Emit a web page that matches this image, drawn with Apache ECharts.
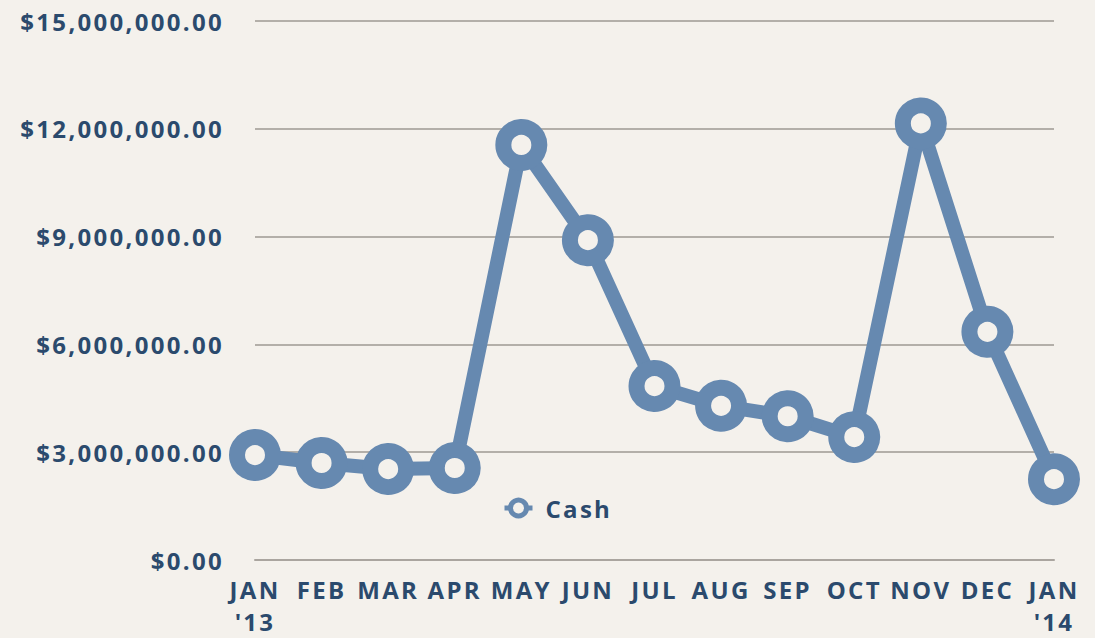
<!DOCTYPE html>
<html lang="en">
<head>
    <meta charset="UTF-8">
    <title>Cash</title>
    <script src="https://cdn.jsdelivr.net/npm/echarts@6/dist/echarts.min.js"></script>
    <style>
        html, body {
            margin: 0;
            padding: 0;
            background: #f4f1ec;
        }
        #main {
            width: 1095px;
            height: 638px;
        }
        /* 字距加宽，贴近原图 */
        #main text {
            letter-spacing: 2.3px;
        }
    </style>
</head>
<body>
<div id="main"></div>
<script type="application/javascript">
    // 数据
    var months = ["JAN\n'13", 'FEB', 'MAR', 'APR', 'MAY', 'JUN', 'JUL', 'AUG', 'SEP', 'OCT', 'NOV', 'DEC', "JAN\n'14"];
    var cash = [2920000, 2700000, 2530000, 2560000, 11550000, 8900000, 4840000, 4290000, 4000000, 3420000, 12150000, 6350000, 2250000];
    var yTicks = [0, 3000000, 6000000, 9000000, 12000000, 15000000];

    var navy = '#2b4a6d';
    var blue = '#6689b0';

    function money(v) {
        return '$' + v.toLocaleString('en-US', {minimumFractionDigits: 2, maximumFractionDigits: 2});
    }

    var myChart = echarts.init(document.getElementById('main'), null, {renderer: 'svg'});

    var option = {
        backgroundColor: '#f4f1ec',
        textStyle: {fontFamily: '"Open Sans", sans-serif'},
        grid: {left: 255, right: 41, top: 21, bottom: 78},
        legend: {
            data: ['Cash'],
            left: 497,
            top: 491,
            itemWidth: 28,
            itemHeight: 20,
            itemGap: 10,
            textStyle: {color: navy, fontSize: 24, fontWeight: 'bold', padding: [0, 0, 0, 8]},
            lineStyle: {width: 5},
            itemStyle: {color: '#f4f1ec', borderColor: blue, borderWidth: 5}
        },
        xAxis: {
            type: 'category',
            data: months,
            boundaryGap: false,
            axisLine: {lineStyle: {color: '#aaa59f', width: 2}},
            axisTick: {show: false},
            axisLabel: {
                color: navy,
                fontSize: 24,
                fontWeight: 'bold',
                margin: 13,
                lineHeight: 32,
                interval: 0
            }
        },
        yAxis: {
            type: 'value',
            min: yTicks[0],
            max: yTicks[yTicks.length - 1],
            interval: 3000000,
            axisLine: {show: false},
            axisTick: {show: false},
            splitLine: {lineStyle: {color: '#b3afa9', width: 2}},
            axisLabel: {
                color: navy,
                fontSize: 24,
                fontWeight: 'bold',
                margin: 31,
                formatter: money
            }
        },
        series: [
            {
                name: 'Cash',
                type: 'line',
                data: cash,
                symbol: 'circle',
                symbolSize: 36,
                lineStyle: {color: blue, width: 14},
                itemStyle: {color: '#f4f1ec', borderColor: blue, borderWidth: 16},
                emphasis: {disabled: true},
                z: 3
            }
        ]
    };

    myChart.setOption(option);
</script>
</body>
</html>
